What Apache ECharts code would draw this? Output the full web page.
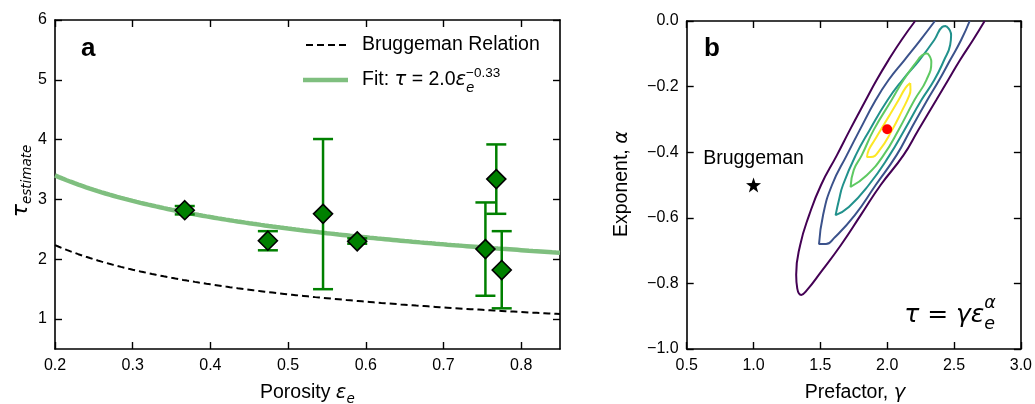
<!DOCTYPE html>
<html>
<head>
<meta charset="utf-8">
<script src="https://cdn.jsdelivr.net/npm/echarts@6/dist/echarts.min.js"></script>
<style>
  html, body { margin: 0; padding: 0; background: #ffffff; }
  #chart { width: 1035px; height: 404px; }
</style>
</head>
<body>
<div id="chart"></div>
<script>
// ---- Panel a: tortuosity estimates vs porosity ----
const porosity    = [0.367, 0.474, 0.545, 0.589, 0.754, 0.768, 0.775];
const tauEstimate = [2.82, 2.31, 2.76, 2.30, 2.17, 3.34, 1.82];
const tauLow      = [2.75, 2.15, 1.50, 2.26, 1.39, 2.76, 1.18];
const tauHigh     = [2.89, 2.47, 4.01, 2.35, 2.95, 3.92, 2.47];

// Power-law parameters [prefactor gamma, exponent alpha]
const bestFit    = [2.0, -0.33];
const bruggeman  = [1.0, -0.5];

const xTicksA = [0.2, 0.3, 0.4, 0.5, 0.6, 0.7, 0.8];
const yTicksA = [1, 2, 3, 4, 5, 6];

// ---- Panel b: confidence contours in (gamma, alpha) ----
const xTicksB = [0.5, 1.0, 1.5, 2.0, 2.5, 3.0];
const yTicksB = [-1.0, -0.8, -0.6, -0.4, -0.2, 0.0];

const contourLevel1 = [[2.209,0],[2.107,-0.058],[2.010,-0.119],[1.921,-0.180],[1.840,-0.241],[1.721,-0.332],[1.624,-0.409],[1.505,-0.500],[1.416,-0.592],[1.349,-0.683],[1.319,-0.774],[1.327,-0.815],[1.357,-0.835],[1.401,-0.820],[1.505,-0.765],[1.654,-0.683],[1.802,-0.592],[1.951,-0.500],[2.122,-0.409],[2.233,-0.332],[2.367,-0.241],[2.456,-0.180],[2.545,-0.119],[2.642,-0.058],[2.729,0]];
const contourLevel2 = [[2.357,0],[2.248,-0.058],[2.129,-0.119],[2.010,-0.180],[1.914,-0.241],[1.795,-0.332],[1.698,-0.409],[1.587,-0.500],[1.520,-0.592],[1.490,-0.680],[1.542,-0.680],[1.602,-0.662],[1.758,-0.592],[1.914,-0.500],[2.070,-0.409],[2.174,-0.332],[2.300,-0.241],[2.389,-0.180],[2.471,-0.119],[2.553,-0.058],[2.617,0]];
const contourLevel3 = [[2.441,-0.015],[2.478,-0.043],[2.471,-0.073],[2.426,-0.119],[2.352,-0.180],[2.256,-0.241],[2.129,-0.332],[2.018,-0.409],[1.862,-0.500],[1.713,-0.567],[1.614,-0.592],[1.639,-0.546],[1.669,-0.500],[1.765,-0.409],[1.869,-0.332],[2.003,-0.241],[2.114,-0.180],[2.241,-0.119],[2.352,-0.058],[2.412,-0.018],[2.441,-0.015]];
const contourLevel4 = [[2.300,-0.098],[2.330,-0.125],[2.293,-0.180],[2.204,-0.241],[2.085,-0.332],[1.973,-0.409],[1.847,-0.470],[1.726,-0.506],[1.750,-0.454],[1.810,-0.409],[1.899,-0.332],[2.033,-0.241],[2.122,-0.180],[2.218,-0.125],[2.263,-0.104],[2.300,-0.098]];
const contourLevel5 = [[2.172,-0.189],[2.174,-0.210],[2.166,-0.226],[2.114,-0.271],[2.033,-0.335],[1.944,-0.393],[1.877,-0.415],[1.849,-0.415],[1.862,-0.393],[1.906,-0.363],[1.951,-0.332],[2.018,-0.287],[2.085,-0.241],[2.137,-0.204],[2.172,-0.189]];
const contourColors = ['#440154', '#3b528b', '#21918c', '#5ec962', '#fde725'];

// ---- styling ----
const BASE = "'Liberation Sans', Arial, sans-serif";
const MATH = "'DejaVu Sans', sans-serif";
const DARK_GREEN = '#008000';
const FIT_GREEN = '#7fbf7f';

// power law tau = gamma * eps^alpha evaluated across the porosity axis
function powerCurve(params) {
  const pts = [];
  for (let i = 0; i <= 130; i++) {
    const e = 0.2 + i * 0.005;
    pts.push([e, params[0] * Math.pow(e, params[1])]);
  }
  return pts;
}

// text layout helper for sub/superscripts
const mctx = document.createElement('canvas').getContext('2d');
function fontStr(p) {
  return (p.italic ? 'italic ' : '') + (p.bold ? 'bold ' : '') + p.size + 'px ' + (p.family || BASE);
}
function runs(x0, y0, parts) {
  let x = x0;
  const els = [];
  parts.forEach(p => {
    mctx.font = fontStr(p);
    const w = mctx.measureText(p.t).width;
    els.push({
      type: 'text', x: x, y: y0 + (p.dy || 0),
      style: { text: p.t, font: fontStr(p), fill: '#000', textAlign: 'left', textVerticalAlign: 'middle' }
    });
    if (!p.hold) x += w;
  });
  return { els: els, width: x - x0 };
}
function centeredRuns(parts) {
  const probe = runs(0, 0, parts);
  return runs(-probe.width / 2, 0, parts).els;
}

const axisColor = '#000';
function xAxisFor(grid, min, max, ticks, pos, showLabels, fmt) {
  return {
    type: 'value', gridIndex: grid, min: min, max: max, position: pos,
    axisLine: { show: true, onZero: false, lineStyle: { color: axisColor, width: 1.6 } },
    axisTick: { show: true, inside: true, length: 7, customValues: ticks, lineStyle: { color: axisColor, width: 1.4 } },
    axisLabel: { show: showLabels, customValues: ticks, formatter: fmt, color: '#000', fontSize: 16, fontFamily: BASE, margin: 9 },
    splitLine: { show: false }
  };
}
function yAxisFor(grid, min, max, ticks, pos, showLabels, fmt) {
  return {
    type: 'value', gridIndex: grid, min: min, max: max, position: pos,
    axisLine: { show: true, onZero: false, lineStyle: { color: axisColor, width: 1.6 } },
    axisTick: { show: true, inside: true, length: 7, customValues: ticks, lineStyle: { color: axisColor, width: 1.4 } },
    axisLabel: { show: showLabels, customValues: ticks, formatter: fmt, color: '#000', fontSize: 16, fontFamily: BASE, margin: 8 },
    splitLine: { show: false }
  };
}
const fmt1 = v => v.toFixed(1).replace('-', '\u2212');
const fmt0 = v => String(Math.round(v));

const errorData = porosity.map((p, i) => [p, tauLow[i], tauHigh[i]]);
const pointData = porosity.map((p, i) => [p, tauEstimate[i]]);

const contourSeries = [contourLevel1, contourLevel2, contourLevel3, contourLevel4, contourLevel5].map((c, i) => ({
  type: 'line', xAxisIndex: 2, yAxisIndex: 2, data: c, showSymbol: false, smooth: 0.5,
  lineStyle: { color: contourColors[i], width: 2 }, z: 3, silent: true, animation: false
}));

const STAR = 'path://M0,-10 L2.35,-3.24 L9.51,-3.09 L3.8,1.24 L5.88,8.09 L0,4 L-5.88,8.09 L-3.8,1.24 L-9.51,-3.09 L-2.35,-3.24 Z';

// ---- text annotations ----
const graphics = [];
// panel letters
graphics.push({ type: 'text', x: 81, y: 49, style: { text: 'a', font: 'bold 26px ' + BASE, fill: '#000', textVerticalAlign: 'middle' } });
graphics.push({ type: 'text', x: 704, y: 49, style: { text: 'b', font: 'bold 26px ' + BASE, fill: '#000', textVerticalAlign: 'middle' } });

// legend of panel a
graphics.push({ type: 'line', shape: { x1: 306, y1: 45, x2: 346, y2: 45 }, style: { stroke: '#000', lineWidth: 2, lineDash: [7, 4] } });
graphics.push({ type: 'line', shape: { x1: 303, y1: 80, x2: 348, y2: 80 }, style: { stroke: FIT_GREEN, lineWidth: 4.5 } });
graphics.push(...runs(362, 45, [{ t: 'Bruggeman Relation', size: 19.5 }]).els);
graphics.push(...runs(362, 80, [
  { t: 'Fit: ', size: 19.5 },
  { t: '\u03c4', size: 19.5, italic: true, family: MATH },
  { t: ' = 2.0', size: 19.5 },
  { t: '\u03b5', size: 19.5, italic: true, family: MATH },
  { t: 'e', size: 13.5, italic: true, family: MATH, dy: 8, hold: true },
  { t: '\u22120.33', size: 13.5, dy: -7 }
]).els);

// x-axis titles
graphics.push(...runs(260, 393, [
  { t: 'Porosity ', size: 19.5 },
  { t: '\u03b5', size: 19.5, italic: true, family: MATH },
  { t: 'e', size: 13.5, italic: true, family: MATH, dy: 6 }
]).els);
graphics.push({ type: 'group', x: 855, y: 393, children: centeredRuns([
  { t: 'Prefactor, ', size: 19.5 },
  { t: '\u03b3', size: 19.5, italic: true, family: MATH }
]) });

// y-axis titles (rotated)
graphics.push({ type: 'group', x: 21, y: 181, rotation: Math.PI / 2, children: centeredRuns([
  { t: '\u03c4', size: 22, italic: true, family: MATH },
  { t: 'estimate', size: 13.5, italic: true, family: MATH, dy: 6 }
]) });
graphics.push({ type: 'group', x: 622, y: 184, rotation: Math.PI / 2, children: centeredRuns([
  { t: 'Exponent, ', size: 19.5 },
  { t: '\u03b1', size: 19.5, italic: true, family: MATH }
]) });

// model equation in panel b
graphics.push({ type: 'group', x: 950, y: 315, children: centeredRuns([
  { t: '\u03c4 = \u03b3\u03b5', size: 25, italic: true, family: MATH },
  { t: 'e', size: 17.5, italic: true, family: MATH, dy: 9, hold: true },
  { t: '\u03b1', size: 17.5, italic: true, family: MATH, dy: -12 }
]) });

const option = {
  backgroundColor: '#ffffff',
  animation: false,
  grid: [
    { left: 55, top: 20, width: 505, height: 329, containLabel: false },
    { left: 686.7, top: 21, width: 336.3, height: 328, containLabel: false }
  ],
  xAxis: [
    xAxisFor(0, 0.2, 0.85, xTicksA, 'bottom', true, fmt1),
    xAxisFor(0, 0.2, 0.85, xTicksA, 'top', false, fmt1),
    xAxisFor(1, 0.5, 3.0, xTicksB, 'bottom', true, fmt1),
    xAxisFor(1, 0.5, 3.0, xTicksB, 'top', false, fmt1)
  ],
  yAxis: [
    yAxisFor(0, 0.5, 6, yTicksA, 'left', true, fmt0),
    yAxisFor(0, 0.5, 6, yTicksA, 'right', false, fmt0),
    yAxisFor(1, -1.0, 0.0, yTicksB, 'left', true, fmt1),
    yAxisFor(1, -1.0, 0.0, yTicksB, 'right', false, fmt1)
  ],
  series: [
    {
      type: 'line', xAxisIndex: 0, yAxisIndex: 0, data: powerCurve(bestFit), showSymbol: false,
      lineStyle: { color: FIT_GREEN, width: 4.5 }, z: 2, silent: true
    },
    {
      type: 'line', xAxisIndex: 0, yAxisIndex: 0, data: powerCurve(bruggeman), showSymbol: false,
      lineStyle: { color: '#000', width: 2, type: [7, 4] }, z: 2, silent: true
    },
    {
      type: 'custom', xAxisIndex: 0, yAxisIndex: 0, data: errorData, z: 3, silent: true,
      encode: { x: 0, y: [1, 2] },
      renderItem: function (params, api) {
        const x = api.value(0);
        const lo = api.coord([x, api.value(1)]);
        const hi = api.coord([x, api.value(2)]);
        const cap = 10;
        const st = { stroke: DARK_GREEN, lineWidth: 2.5 };
        return {
          type: 'group', children: [
            { type: 'line', shape: { x1: lo[0], y1: lo[1], x2: hi[0], y2: hi[1] }, style: st },
            { type: 'line', shape: { x1: lo[0] - cap, y1: lo[1], x2: lo[0] + cap, y2: lo[1] }, style: st },
            { type: 'line', shape: { x1: hi[0] - cap, y1: hi[1], x2: hi[0] + cap, y2: hi[1] }, style: st }
          ]
        };
      }
    },
    {
      type: 'scatter', xAxisIndex: 0, yAxisIndex: 0, data: pointData, symbol: 'diamond', symbolSize: 19,
      itemStyle: { color: DARK_GREEN, borderColor: '#000', borderWidth: 1.6, opacity: 1 }, z: 5, silent: true
    },
    ...contourSeries,
    {
      type: 'scatter', xAxisIndex: 2, yAxisIndex: 2, data: [bestFit], symbol: 'circle', symbolSize: 10,
      itemStyle: { color: '#ff0000', opacity: 1 }, z: 6, silent: true
    },
    {
      type: 'scatter', xAxisIndex: 2, yAxisIndex: 2, data: [bruggeman], symbol: STAR, symbolSize: 15,
      itemStyle: { color: '#000', opacity: 1 }, z: 6, silent: true,
      label: { show: true, position: 'top', distance: 9, formatter: 'Bruggeman', color: '#000', fontSize: 19.5, fontFamily: BASE }
    }
  ],
  graphic: graphics
};

const chart = echarts.init(document.getElementById('chart'), null, { renderer: 'canvas' });
chart.setOption(option);
</script>
</body>
</html>
